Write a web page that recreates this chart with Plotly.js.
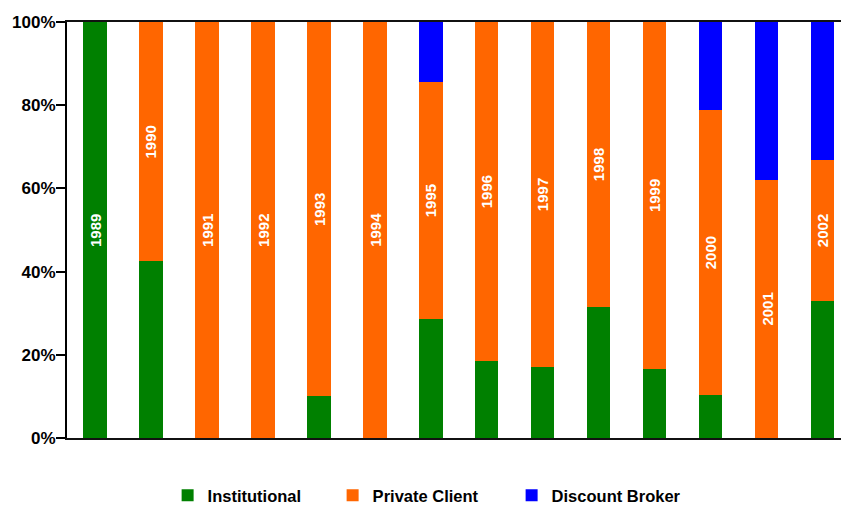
<!DOCTYPE html>
<html>
<head>
<meta charset="utf-8">
<script src="https://cdn.plot.ly/plotly-3.0.1.min.js"></script>
<style>
  html, body { margin: 0; padding: 0; background: #fff; }
  #chart { width: 841px; height: 513px; }
</style>
</head>
<body>
<div id="chart"></div>
<script>
// ---- data (percent share per year) ----
const years = ['1989','1990','1991','1992','1993','1994','1995','1996','1997','1998','1999','2000','2001','2002'];
const institutional = [100, 42.5, 0, 0, 10, 0, 28.6, 18.5, 17.1, 31.5, 16.6, 10.3, 0, 32.9];
const discountBroker = [0, 0, 0, 0, 0, 0, 14.4, 0, 0, 0, 0, 21.2, 38.0, 33.2];
const privateClient = years.map((y, i) => +(100 - institutional[i] - discountBroker[i]).toFixed(1));
const seriesNames = ['Institutional', 'Private Client', 'Discount Broker'];
const yTicks = [0, 20, 40, 60, 80, 100];
const yTickText = yTicks.map(v => v + '%');

const FONT = 'Liberation Sans, Arial, Helvetica, sans-serif';
const colors = ['#008000', '#FF6600', '#0000FF'];

const common = { type: 'bar', x: years, width: 0.42, hoverinfo: 'none' };
const traces = [
  Object.assign({}, common, { name: seriesNames[0], y: institutional, marker: { color: colors[0], line: { width: 0 } }, legendwidth: 120 }),
  Object.assign({}, common, { name: seriesNames[1], y: privateClient, marker: { color: colors[1], line: { width: 0 } }, legendwidth: 134 }),
  Object.assign({}, common, { name: seriesNames[2], y: discountBroker, marker: { color: colors[2], line: { width: 0 } }, legendwidth: 150 })
];

// year labels centred in the Private Client segment (or in the only segment present)
const annotations = years.map((yr, i) => {
  const yc = privateClient[i] > 0 ? institutional[i] + privateClient[i] / 2 : institutional[i] / 2;
  return {
    x: i, y: yc, xref: 'x', yref: 'y', text: '<b>' + yr + '</b>', showarrow: false, textangle: -90,
    font: { family: FONT, size: 15, color: '#ffffff' }
  };
});

const layout = {
  width: 841, height: 513,
  margin: { l: 67, r: 0, t: 22, b: 75 },
  paper_bgcolor: '#ffffff', plot_bgcolor: '#ffffff',
  barmode: 'stack',
  showlegend: true,
  legend: {
    orientation: 'h', x: 0.130, xanchor: 'left', xref: 'paper',
    y: -0.012, yanchor: 'bottom', yref: 'container',
    font: { family: FONT, size: 16.5, color: '#000', weight: 'bold' },
    traceorder: 'normal'
  },
  xaxis: {
    type: 'category', range: [-0.5, 13.33], showticklabels: false, ticks: '',
    showgrid: false, zeroline: false, showline: true, linecolor: '#111', linewidth: 2, mirror: true
  },
  yaxis: {
    range: [0, 100], tickmode: 'array', tickvals: yTicks, ticktext: yTickText,
    ticks: 'outside', ticklen: 9, tickwidth: 2, tickcolor: '#000', ticklabelstandoff: -3,
    showgrid: false, zeroline: false, showline: true, linecolor: '#000', linewidth: 2,
    tickfont: { family: FONT, size: 17, color: '#000', weight: 'bold' }
  },
  annotations: annotations
};

Plotly.newPlot('chart', traces, layout, { staticPlot: true, displayModeBar: false });
</script>
</body>
</html>
